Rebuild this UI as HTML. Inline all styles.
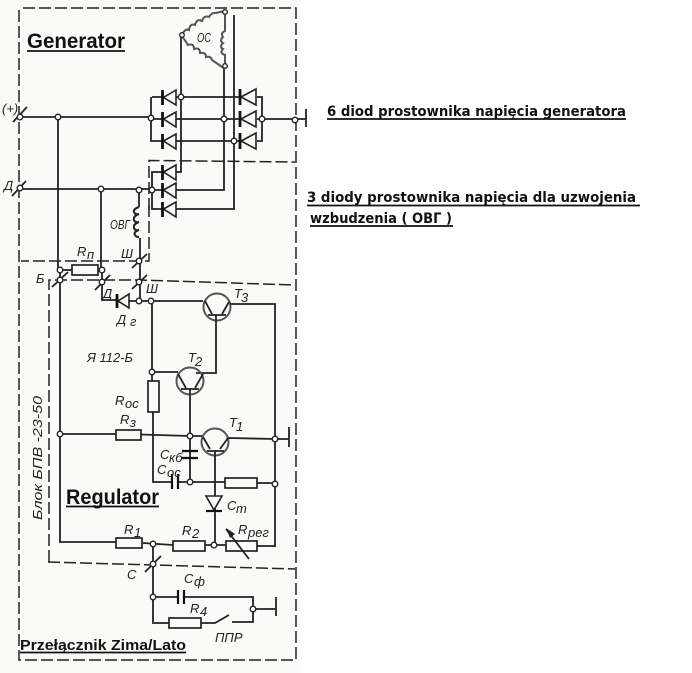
<!DOCTYPE html>
<html><head><meta charset="utf-8"><style>
html,body{margin:0;padding:0;background:#fff;width:692px;height:673px;overflow:hidden}
svg{display:block}
.w{fill:none;stroke:#222;stroke-width:1.8}
.d{fill:none;stroke:#222;stroke-width:1.5;stroke-dasharray:12 4}
.n{fill:#fafaf8;stroke:#222;stroke-width:1.3}
.c{fill:none;stroke:#555;stroke-width:2}
.t{fill:none;stroke:#555;stroke-width:2}
.r{fill:#fafaf8;stroke:#222;stroke-width:1.7}
.f{fill:#fafaf8;stroke:#222;stroke-width:1.6}
.b{fill:none;stroke:#111;stroke-width:2.8}
.l{font-family:"Liberation Sans",sans-serif;font-style:italic;font-size:13px;fill:#222}
.h{font-family:"DejaVu Sans","Liberation Sans",sans-serif;font-weight:bold;fill:#111}
.g{font-family:"Liberation Sans",sans-serif;font-weight:bold;fill:#111}
.u{stroke:#111;stroke-width:1.8}
</style></head><body>
<svg width="692" height="673" viewBox="0 0 692 673" xmlns="http://www.w3.org/2000/svg">
<rect x="0" y="0" width="300" height="673" fill="#fafaf8"/>
<rect x="300" y="0" width="392" height="673" fill="#fff"/>

<!-- dashed frames -->
<path class="d" d="M19 10V660H296V8H19"/>
<path class="d" d="M149 210V160.500L295 162"/>
<path class="d" d="M149 205V261H21"/>
<path class="d" d="M49 562V280H140L295 285"/>
<path class="d" d="M48 562L295 569"/>

<!-- stator -->
<path class="w" d="M181 36V172H176"/>
<path class="w" d="M224 66V190H176"/>
<path class="w" d="M234 15V209H176"/>
<path class="c" d="M182 35q3-7 7-5q1-7 6-5q2-7 7-4q2-6 7-4q3-5 7-4l9-2"/>
<path class="c" d="M225 12V31q-5 2-2 6q-4 4 0 6q-4 4 0 6q-4 4 2 6V66"/>
<path class="c" d="M182 36l6 9q6-2 6 4q6-2 6 4q6-1 6 4q5-1 6 3l13 9"/>
<circle class="n" cx="182" cy="35" r="2.300"/><circle class="n" cx="225" cy="12" r="2.300"/><circle class="n" cx="225" cy="66" r="2.300"/>
<text class="l" x="197" y="42" font-size="13" textLength="14" lengthAdjust="spacingAndGlyphs">ОС</text>

<!-- main lines -->
<path class="w" d="M19 117H151M19 189H152"/>
<path class="w" d="M58 117V270M60 270V542H116M101 189V270"/>
<path class="w" d="M152 97H176M151 97V141H176M152 119H176M176 97H240M176 119H240M176 141H240"/>
<path class="w" d="M257 97H262V141H257M257 119H295M295 119H306"/>
<path class="w" d="M306 109V127" stroke-width="2"/>
<path class="w" d="M176 172H152V209H176M152 190H176"/>

<!-- diodes -->
<g>
<path class="f" d="M163.500 97.500L176 90V105Z"/><path class="b" d="M162.500 90V105"/>
<path class="f" d="M163.500 119L176 112V127Z"/><path class="b" d="M162.500 112V127"/>
<path class="f" d="M163.500 141L176 134V149Z"/><path class="b" d="M162.500 134V149"/>
<path class="f" d="M163.500 172L176 165V180Z"/><path class="b" d="M162.500 165V180"/>
<path class="f" d="M163.500 190L176 183V198Z"/><path class="b" d="M162.500 183V198"/>
<path class="f" d="M163.500 209L176 202V217Z"/><path class="b" d="M162.500 202V217"/>
<path class="f" d="M241 97L256 89V105Z"/><path class="b" d="M240 89V105"/>
<path class="f" d="M241 119L256 111V127Z"/><path class="b" d="M240 111V127"/>
<path class="f" d="M241 141L256 133V149Z"/><path class="b" d="M240 133V149"/>
</g>

<!-- OVG coil -->
<path class="w" d="M139 190V207"/>
<path class="c" style="stroke:#222" d="M139 207q-6 2-5 5q1 3 5 2q-6 2-5 6q1 3 5 2q-6 2-5 6q1 3 5 2q-6 2-4 5q1 2 4 2"/>
<path class="w" d="M140 238V301"/>
<text class="l" x="110" y="229" font-size="13" textLength="20" lengthAdjust="spacingAndGlyphs">ОВГ</text>

<!-- Rp -->
<path class="w" d="M60 270H102"/>
<rect class="r" x="72" y="265" width="26" height="10"/>
<text class="l" x="77" y="256" font-size="14">R</text><text class="l" x="87" y="259" font-size="10">п</text>

<!-- terminal ticks -->
<path class="w" d="M13 122L27 107M12 196L26 181M132 268L147 254M132 289L147 275M52 287L68 272M95 290L110 275M145 572L161 556"/>

<path class="w" d="M102 270V300H117M129 301H203"/>
<path class="f" d="M118 301L129 294V308Z"/><path class="b" d="M117 294V308"/>

<!-- T3 -->
<circle class="t" cx="217" cy="307" r="13.500"/>
<path class="w" d="M205 301L212 314M229 302L222 314M208 315H226M216 315V373H196"/>
<path class="w" d="M230 304H275V547"/>

<!-- T2 -->
<path class="w" d="M152 301V381M152 372H178"/>
<circle class="t" cx="190" cy="381" r="13.500"/>
<path class="w" d="M178 374L186 388M203 374L195 388M181 389H199M190 389V482"/>
<rect class="r" x="148" y="381" width="11" height="31"/>
<path class="w" d="M153 412V482H172"/>

<!-- T1 -->
<path class="w" d="M60 434H116M141 434.500L190 436H203"/>
<rect class="r" x="116" y="430" width="25" height="10"/>
<circle class="t" cx="215" cy="442" r="13.500"/>
<path class="w" d="M203 437L210 449M228 438L220 449M207 451H224M215 451V545M228 438L275 439H289"/>
<path class="w" d="M289 427V447" stroke-width="2"/>

<!-- Ckb / Cos -->
<path class="b" style="stroke-width:2.200" d="M182 451H198M182 458H198"/>
<path class="w" d="M178 482H225M257 483H275"/>
<path class="b" style="stroke-width:2.200" d="M172 474V489M178 474V489"/>
<rect class="r" x="225" y="478" width="32" height="10"/>

<!-- Zener -->
<path class="f" d="M206 496H222L214 510Z"/>
<path class="b" style="stroke-width:2.200" d="M206 511H222"/>

<!-- bottom row -->
<path class="w" d="M143 543L173 545M205 545H226M257 546H275"/>
<rect class="r" x="116" y="538" width="26" height="10"/>
<rect class="r" x="173" y="541" width="32" height="10"/>
<rect class="r" x="226" y="541" width="31" height="10"/>
<path class="w" d="M226 529L249 559"/>
<path d="M226 528L235 534L230 538Z" fill="#222"/>

<!-- lower section -->
<path class="w" d="M153 544V623H169M153 597H178M184 597H253V622H232M253 609H276M201 623H215L229 615"/>
<path class="b" style="stroke-width:2.200" d="M178 590V604M184 590V604"/>
<path class="w" d="M276 597V616" stroke-width="2"/>
<rect class="r" x="169" y="618" width="32" height="10"/>

<!-- nodes -->
<g>
<circle class="n" cx="20" cy="117" r="2.800"/><circle class="n" cx="58" cy="117" r="2.800"/><circle class="n" cx="151" cy="118" r="2.800"/>
<circle class="n" cx="181" cy="97" r="2.800"/><circle class="n" cx="224" cy="119" r="2.800"/><circle class="n" cx="234" cy="141" r="2.800"/>
<circle class="n" cx="262" cy="119" r="2.800"/><circle class="n" cx="295" cy="120" r="2.800"/>
<circle class="n" cx="20" cy="188" r="2.800"/><circle class="n" cx="101" cy="189" r="2.800"/><circle class="n" cx="139" cy="190" r="2.800"/><circle class="n" cx="152" cy="190" r="2.800"/>
<circle class="n" cx="60" cy="270" r="2.800"/><circle class="n" cx="102" cy="270" r="2.800"/><circle class="n" cx="139" cy="261" r="2.800"/>
<circle class="n" cx="60" cy="280" r="2.800"/><circle class="n" cx="102" cy="282" r="2.800"/><circle class="n" cx="139" cy="282" r="2.800"/>
<circle class="n" cx="139" cy="301" r="2.800"/><circle class="n" cx="151" cy="301" r="2.800"/><circle class="n" cx="152" cy="372" r="2.800"/>
<circle class="n" cx="60" cy="434" r="2.800"/><circle class="n" cx="190" cy="436" r="2.800"/><circle class="n" cx="275" cy="439" r="2.800"/>
<circle class="n" cx="190" cy="482" r="2.800"/><circle class="n" cx="275" cy="484" r="2.800"/>
<circle class="n" cx="153" cy="544" r="2.800"/><circle class="n" cx="214" cy="545" r="2.800"/><circle class="n" cx="153" cy="564" r="2.800"/>
<circle class="n" cx="153" cy="597" r="2.800"/><circle class="n" cx="253" cy="609" r="2.800"/>
</g>

<!-- italic labels -->
<text class="l" x="2" y="113" font-size="14">(+)</text>
<text class="l" x="4" y="190" font-size="16">Д</text>
<text class="l" x="36" y="283" font-size="15">Б</text>
<text class="l" x="121" y="258" font-size="15">Ш</text>
<text class="l" x="146" y="293" font-size="15">Ш</text>
<text class="l" x="103" y="298" font-size="14">Д</text>
<text class="l" x="117" y="324" font-size="16">Д</text><text class="l" x="130" y="326" font-size="10">г</text>
<text class="l" x="234" y="298" font-size="15">T</text><text class="l" x="241" y="302" font-size="10">3</text>
<text class="l" x="188" y="362" font-size="15">T</text><text class="l" x="195" y="366" font-size="10">2</text>
<text class="l" x="229" y="427" font-size="15">T</text><text class="l" x="236" y="431" font-size="10">1</text>
<text class="l" x="87" y="362" font-size="14">Я 112-Б</text>
<text class="l" x="115" y="405" font-size="15">R</text><text class="l" x="125" y="408" font-size="11">ос</text>
<text class="l" x="120" y="424" font-size="15">R</text><text class="l" x="130" y="427" font-size="11">з</text>
<text class="l" x="160" y="459" font-size="14">C</text><text class="l" x="169" y="462" font-size="10">кб</text>
<text class="l" x="157" y="474" font-size="14">C</text><text class="l" x="167" y="477" font-size="10">ос</text>
<text class="l" x="227" y="510" font-size="15">C</text><text class="l" x="236" y="513" font-size="10">т</text>
<text class="l" x="124" y="534" font-size="15">R</text><text class="l" x="134" y="537" font-size="10">1</text>
<text class="l" x="182" y="535" font-size="15">R</text><text class="l" x="192" y="538" font-size="10">2</text>
<text class="l" x="238" y="534" font-size="15">R</text><text class="l" x="248" y="537" font-size="11">рег</text>
<text class="l" x="127" y="579" font-size="15">С</text>
<text class="l" x="184" y="583" font-size="15">C</text><text class="l" x="194" y="586" font-size="10">ф</text>
<text class="l" x="190" y="613" font-size="15">R</text><text class="l" x="200" y="616" font-size="10">4</text>
<text class="l" x="215" y="642" font-size="13">ППР</text>
<text class="l" transform="translate(42 520) rotate(-90)" font-size="15" textLength="124" lengthAdjust="spacingAndGlyphs">Блок БПВ -23-50</text>

<!-- bold labels -->
<text class="g" x="27" y="48" font-size="21" textLength="98" lengthAdjust="spacingAndGlyphs">Generator</text>
<line class="u" x1="27" y1="51" x2="125" y2="51"/>
<text class="g" x="66" y="504" font-size="21" textLength="93" lengthAdjust="spacingAndGlyphs">Regulator</text>
<line class="u" x1="66" y1="506.500" x2="159" y2="506.500"/>
<text class="g" x="20" y="650" font-size="15" textLength="166" lengthAdjust="spacingAndGlyphs">Przełącznik Zima/Lato</text>
<line class="u" x1="20" y1="652.500" x2="186" y2="652.500"/>
<text class="h" x="327" y="116" font-size="14" textLength="299" lengthAdjust="spacingAndGlyphs">6 diod prostownika napięcia generatora</text>
<line class="u" x1="327" y1="119" x2="626" y2="119"/>
<text class="h" x="307" y="202" font-size="14" textLength="329" lengthAdjust="spacingAndGlyphs">3 diody prostownika napięcia dla uzwojenia</text>
<line class="u" x1="307" y1="205.500" x2="640" y2="205.500"/>
<text class="h" x="310" y="223" font-size="14" textLength="142" lengthAdjust="spacingAndGlyphs">wzbudzenia ( ОВГ )</text>
<line class="u" x1="310" y1="226" x2="453" y2="226"/>
</svg>
</body></html>
